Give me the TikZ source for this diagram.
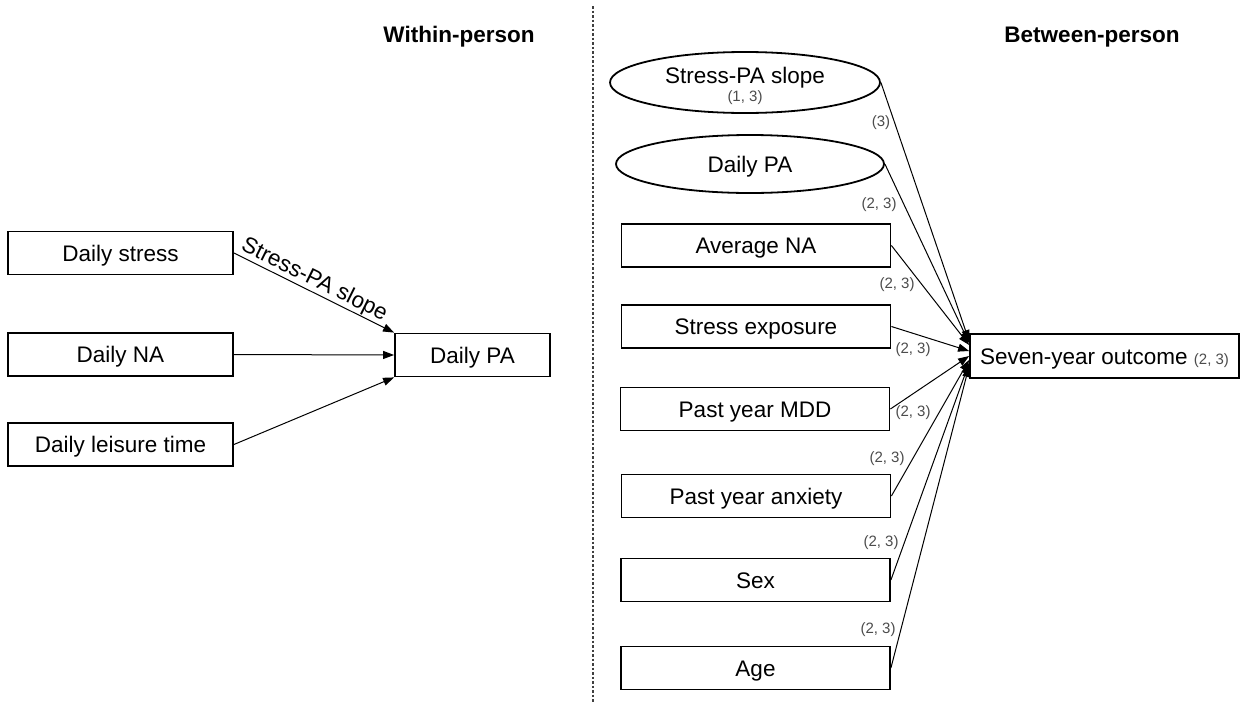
\documentclass[tikz,border=0pt]{standalone}
\usepackage{fontspec}
\setmainfont{Liberation Sans}
\usetikzlibrary{arrows.meta,shapes.geometric,calc}
\tikzset{
  box/.style={draw=black,line width=1.8pt,rectangle,inner sep=0pt,minimum height=43pt,text height=16pt,text depth=0pt,font=\fontsize{22.5}{26}\selectfont},
  lbox/.style={box,minimum width=225pt},
  rbox/.style={box,minimum width=269pt},
  ell/.style={draw=black,line width=1.8pt,ellipse,inner sep=0pt,font=\fontsize{22.5}{26}\selectfont},
  conn/.style={line width=1pt,-{Triangle[length=11pt,width=8pt]}},
  coef/.style={text=black!70,font=\fontsize{15}{17}\selectfont,inner sep=0pt},
  head/.style={font=\fontsize{22.5}{26}\selectfont\bfseries,inner sep=0pt}
}
\begin{document}
\begin{tikzpicture}[x=1pt,y=-1pt]
\useasboundingbox[fill=white] (0,0) rectangle (1253,702);
% headings
\node[head] (hw) at (459,37) {Within-person};
\node[head] (hb) at (1092,37) {Between-person};
% divider
\coordinate (dtop) at (593,6);
\coordinate (dbot) at (593,702);
\draw[black!75,line width=1.2pt,dash pattern=on 2.5pt off 2pt] (dtop) -- (dbot);
% within-person
\node[lbox] (ds) at (120.5,253) {Daily stress};
\node[lbox] (dna) at (120.5,354.5) {Daily NA};
\node[lbox] (dl) at (120.5,444.5) {Daily leisure time};
\node[box,minimum width=155pt] (dpa) at (472.5,355) {Daily PA};
\draw[conn] (ds.east) -- node[pos=0.47,above,sloped,inner sep=0.5pt,font=\fontsize{22.5}{26}\selectfont] (sl) {Stress-PA slope} (dpa.north west);
\draw[conn] (dna.east) -- (dpa.west);
\draw[conn] (dl.east) -- (dpa.south west);
% between-person
\node[ell,minimum width=270pt,minimum height=61pt] (e1) at (745,82.5) {};
\node[font=\fontsize{22.5}{26}\selectfont,inner sep=0pt,text height=16pt,text depth=0pt] (e1t) at (745,75) {Stress-PA slope};
\node[coef] (e1c) at (745,98) {(1, 3)};
\node[ell,minimum width=268pt,minimum height=58pt,text height=16pt,text depth=0pt] (e2) at (750,164) {Daily PA};
\node[rbox] (ana) at (756,245.5) {Average NA};
\node[rbox] (se) at (756,326.5) {Stress exposure};
\node[rbox] (mdd) at (755,409) {Past year MDD};
\node[rbox] (anx) at (756,496) {Past year anxiety};
\node[rbox] (sex) at (755.5,580) {Sex};
\node[rbox] (age) at (755.5,668) {Age};
\node[box,minimum width=269pt,minimum height=44pt] (out) at (1104.5,356) {Seven-year outcome {\color{black!70}\fontsize{15}{17}\selectfont(2, 3)}};
\draw[conn] (e1.east) -- ($(out.west)+(0,-15)$);
\draw[conn] (e2.east) -- ($(out.west)+(0,-13)$);
\draw[conn] (ana.east) -- ($(out.west)+(0,-11)$);
\draw[conn] (se.east) -- ($(out.west)+(0,-5)$);
\draw[conn] (mdd.east) -- ($(out.west)+(0,0)$);
\draw[conn] (anx.east) -- ($(out.west)+(0,4)$);
\draw[conn] (sex.east) -- ($(out.west)+(0,7)$);
\draw[conn] (age.east) -- ($(out.west)+(0,10)$);
% coefficients
\node[coef] (c1) at (881,123) {(3)};
\node[coef] (c2) at (879,205) {(2, 3)};
\node[coef] (c3) at (897,285) {(2, 3)};
\node[coef] (c4) at (913,350) {(2, 3)};
\node[coef] (c5) at (913,413) {(2, 3)};
\node[coef] (c6) at (887,459) {(2, 3)};
\node[coef] (c7) at (881,543) {(2, 3)};
\node[coef] (c8) at (878,630) {(2, 3)};
\end{tikzpicture}
\end{document}
